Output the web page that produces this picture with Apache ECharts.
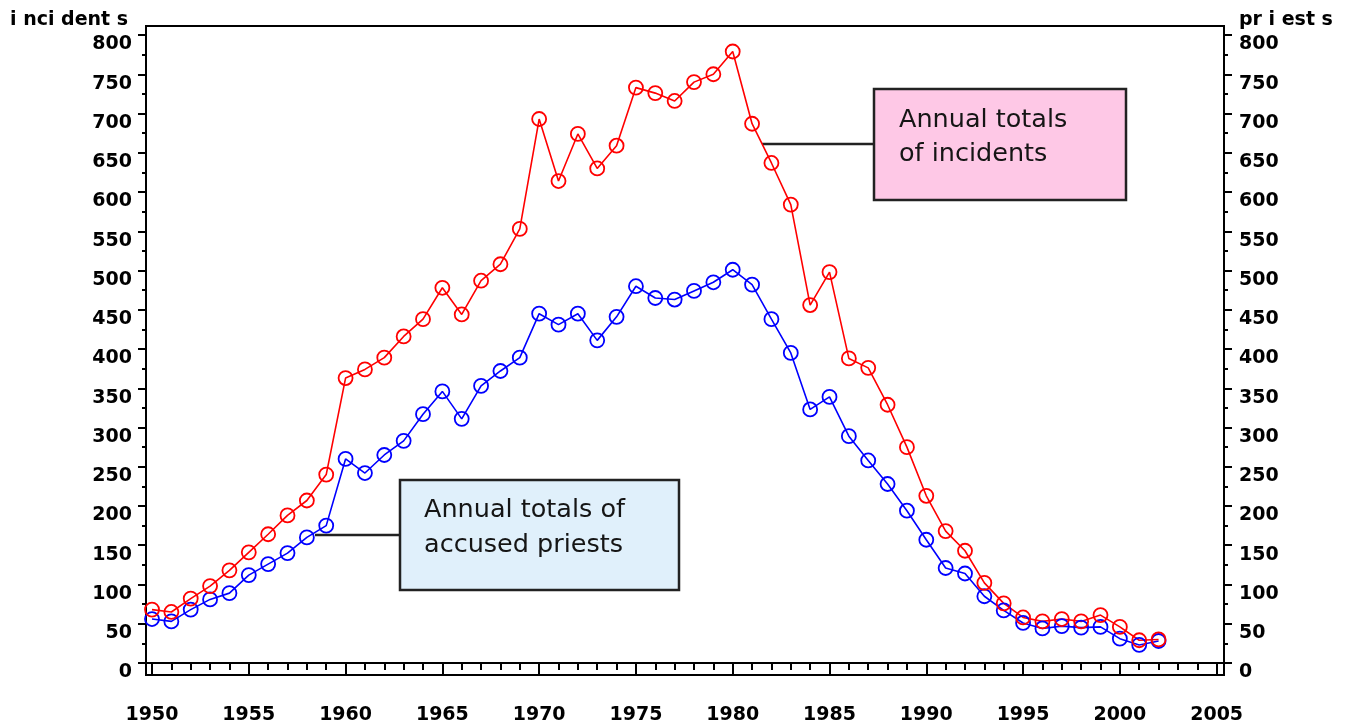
<!DOCTYPE html>
<html><head><meta charset="utf-8">
<script src="https://cdn.jsdelivr.net/npm/echarts@6/dist/echarts.min.js"></script>
<style>html,body{margin:0;padding:0;background:#fff}#c{width:1346px;height:725px}</style>
</head><body><div id="c"></div>
<script>
const years = [1950,1951,1952,1953,1954,1955,1956,1957,1958,1959,
  1960,1961,1962,1963,1964,1965,1966,1967,1968,1969,
  1970,1971,1972,1973,1974,1975,1976,1977,1978,1979,
  1980,1981,1982,1983,1984,1985,1986,1987,1988,1989,
  1990,1991,1992,1993,1994,1995,1996,1997,1998,1999,
  2000,2001,2002];
const incidents = [68,65,82,98,118,141,164,188,207,240,
  363,374,389,416,438,478,444,487,508,553,
  693,614,674,630,659,733,726,716,740,750,
  779,687,637,584,456,498,388,376,329,275,
  213,168,143,102,76,58,53,56,53,61,
  46,29,30];
const priests = [56,53,68,81,89,112,126,140,160,175,
  260,242,265,283,317,346,311,353,372,389,
  445,431,445,411,441,480,465,463,474,485,
  501,482,438,395,323,339,289,258,228,194,
  157,121,114,85,67,51,44,47,45,46,
  31,23,28];
const xMajorTicks = [1950,1955,1960,1965,1970,1975,1980,1985,1990,1995,2000,2005];
const xMinorTicks = [1950,1951,1952,1953,1954,1955,1956,1957,1958,1959,1960,1961,1962,1963,1964,1965,1966,1967,1968,1969,1970,1971,1972,1973,1974,1975,1976,1977,1978,1979,1980,1981,1982,1983,1984,1985,1986,1987,1988,1989,1990,1991,1992,1993,1994,1995,1996,1997,1998,1999,2000,2001,2002,2003,2004,2005];
const yMajorTicks = [0,50,100,150,200,250,300,350,400,450,500,550,600,650,700,750,800];
const yMinorTicks = [25,75,125,175,225,275,325,375,425,475,525,575,625,675,725,775];
const leftAxisName = 'i nci dent s';
const rightAxisName = 'pr i est s';
const noteIncidents = 'Annual totals\nof incidents';
const notePriests = 'Annual totals of\naccused priests';

const X_MIN = 1949.69, X_MAX = 2005.38, Y_MIN = -15.3, Y_MAX = 811.5;
const FONT = 'DejaVu Sans';
const labelFont = {fontFamily: FONT, fontSize: 19, fontWeight: 'bold', color: '#000'};
const axisLineStyle = {color: '#000', width: 2};

function xAxisDef(ticks, len, showLabels, showLine) {
  return {
    type: 'value', position: 'bottom', min: X_MIN, max: X_MAX,
    axisLine: {show: showLine, lineStyle: axisLineStyle},
    axisTick: {show: true, length: len, customValues: ticks, lineStyle: {color: '#000', width: 2}},
    axisLabel: Object.assign({show: showLabels, customValues: xMajorTicks, margin: 31,
      formatter: v => String(Math.round(v))}, labelFont),
    splitLine: {show: false}
  };
}
function yAxisDef(pos, ticks, len, showLabels, showLine) {
  return {
    type: 'value', position: pos, min: Y_MIN, max: Y_MAX,
    axisLine: {show: showLine, lineStyle: axisLineStyle},
    axisTick: {show: true, length: len, customValues: ticks, lineStyle: {color: '#000', width: 2}},
    axisLabel: {show: showLabels, customValues: yMajorTicks, margin: pos === 'left' ? 14 : 15,
      formatter: v => '{v|' + Math.round(v) + '}',
      rich: {v: Object.assign({padding: [19, 0, 0, 0]}, labelFont)}},
    splitLine: {show: false}
  };
}
function seriesDef(name, data, color) {
  return {
    name: name, type: 'line', xAxisIndex: 0, yAxisIndex: 0,
    data: years.map((y, i) => [y, data[i]]),
    symbol: 'circle', symbolSize: 14,
    lineStyle: {color: color, width: 1.6},
    itemStyle: {color: 'rgba(0,0,0,0)', borderColor: color, borderWidth: 1.8},
    emphasis: {disabled: true},
    animation: false
  };
}

const chart = echarts.init(document.getElementById('c'), null, {renderer: 'canvas'});
chart.setOption({
  backgroundColor: '#fff',
  animation: false,
  grid: {left: 146, right: 122, top: 26, bottom: 50, show: true, borderColor: '#000', borderWidth: 2, backgroundColor: 'transparent'},
  xAxis: [xAxisDef(xMajorTicks, 13, true, true), xAxisDef(xMinorTicks, 7, false, false)],
  yAxis: [
    yAxisDef('left', yMajorTicks, 8, true, true),
    yAxisDef('left', yMinorTicks, 4, false, false),
    yAxisDef('right', yMajorTicks, 8, true, true),
    yAxisDef('right', yMinorTicks, 4, false, false)
  ],
  series: [
    seriesDef('priests', priests, '#0000FF'),
    seriesDef('incidents', incidents, '#FF0000')
  ],
  graphic: [
    {type: 'text', style: {text: leftAxisName, x: 10, y: 20, align: 'left', verticalAlign: 'middle', font: 'bold 19px "DejaVu Sans"', fill: '#000'}},
    {type: 'text', style: {text: rightAxisName, x: 1239, y: 20, align: 'left', verticalAlign: 'middle', font: 'bold 19px "DejaVu Sans"', fill: '#000'}},
    {type: 'line', shape: {x1: 762, y1: 144, x2: 873, y2: 144}, style: {stroke: '#222', lineWidth: 2.5}},
    {type: 'rect', shape: {x: 874, y: 89, width: 252, height: 111}, style: {fill: '#FEC8E6', stroke: '#222', lineWidth: 2.5}},
    {type: 'text', style: {text: noteIncidents, x: 899, y: 137, align: 'left', verticalAlign: 'middle', lineHeight: 34, font: '25.5px "DejaVu Sans"', fill: '#151515'}},
    {type: 'line', shape: {x1: 315, y1: 535, x2: 399, y2: 535}, style: {stroke: '#222', lineWidth: 2.5}},
    {type: 'rect', shape: {x: 400, y: 480, width: 279, height: 110}, style: {fill: '#E0F0FB', stroke: '#222', lineWidth: 2.5}},
    {type: 'text', style: {text: notePriests, x: 424, y: 528, align: 'left', verticalAlign: 'middle', lineHeight: 35, font: '25.5px "DejaVu Sans"', fill: '#151515'}}
  ]
});
</script>
</body></html>
